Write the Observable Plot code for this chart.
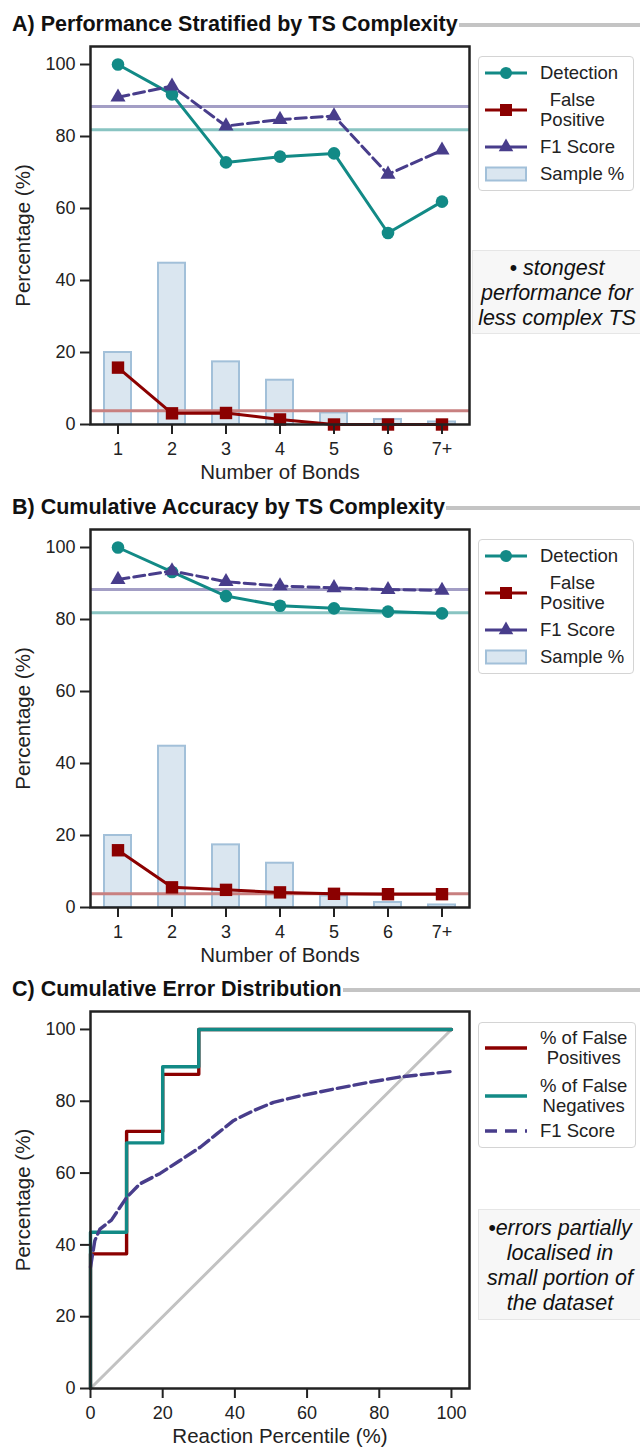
<!DOCTYPE html>
<html><head><meta charset="utf-8">
<script src="https://cdn.jsdelivr.net/npm/d3@7"></script>
<script src="https://cdn.jsdelivr.net/npm/@observablehq/plot@0.6"></script>
<style>
body{margin:0;background:#fff;}
#root{position:relative;width:640px;height:1447px;overflow:hidden;font-family:"Liberation Sans",Arial,sans-serif;color:#222;}
.panel{position:absolute;left:0;}
.title{position:absolute;left:12px;right:0;display:flex;align-items:center;font-weight:bold;font-size:21.5px;line-height:21.5px;color:#111;white-space:nowrap;}
.title .rule{flex:1;height:3.5px;background:#c4c4c4;margin-left:1px;}
.legend{position:absolute;border:1px solid #d4d4d4;border-radius:4px;background:#fff;box-sizing:border-box;}
.sw{position:absolute;left:5px;}
.tx{position:absolute;left:61px;font-size:18.5px;line-height:20px;text-align:center;white-space:nowrap;color:#222;}
.note{position:absolute;background:#f7f7f7;border:1px solid #e6e6e6;box-sizing:border-box;font-style:italic;font-size:21.5px;line-height:25px;text-align:center;color:#111;white-space:nowrap;}
</style></head>
<body><div id="root"></div>
<script>
// ---------- data ----------
const cats = ["1","2","3","4","5","6","7+"];
const samplePct = [20.0, 44.8, 17.4, 12.3, 3.2, 1.4, 0.7];
// Panel A: stratified
const detA = [100, 91.7, 72.8, 74.4, 75.3, 53.2, 61.9];
const fpA  = [15.8, 3.1, 3.2, 1.4, 0.0, 0.0, 0.0];
const f1A  = [90.9, 94.0, 82.9, 84.7, 85.7, 69.5, 76.2];
// Panel B: cumulative
const detB = [100, 93.2, 86.5, 83.8, 83.1, 82.2, 81.7];
const fpB  = [15.9, 5.6, 4.9, 4.2, 3.8, 3.7, 3.7];
const f1B  = [91.1, 93.5, 90.5, 89.3, 88.8, 88.3, 88.1];
// overall reference levels
const refDet = 81.9;
const refF1 = 88.3;
const refFp = 3.8;
// Panel C: cumulative error distribution
const fpCx = [0, 0, 10, 20, 30, 100];
const fpCy = [0, 37.5, 71.6, 87.5, 100, 100];
const fnCx = [0, 0, 10, 20, 30, 100];
const fnCy = [0, 43.5, 68.4, 89.6, 100, 100];
const f1Cx = [0, 1.2, 2.6, 5.8, 10, 13.7, 19.3, 24.8, 30.4, 35, 39.6, 45.2, 50.7, 58.1, 67.4, 76.7, 85.9, 100];
const f1Cy = [33.8, 41.2, 44.4, 46.9, 53.2, 57, 59.9, 63.5, 67.2, 70.9, 74.6, 77.4, 79.7, 81.5, 83.4, 85.2, 86.8, 88.3];
const diagX = [0, 100];
const diagY = [0, 100];
const yTicks = [0, 20, 40, 60, 80, 100];
const xTicksC = [0, 20, 40, 60, 80, 100];

// ---------- styles ----------
const TEAL = "#128a86", RED = "#8b0000", PURPLE = "#483d8b";
const TEAL_L = "#89c4c2", RED_L = "#c88080", PURPLE_L = "#a39ec5";
const BAR_FILL = "#dae6f0", BAR_EDGE = "#a2c0d9";
const FONT = "'Liberation Sans', Arial, sans-serif";
const root = document.getElementById("root");

function place(el, top) {
  const d = document.createElement("div");
  d.className = "panel"; d.style.top = top + "px";
  d.appendChild(el); root.appendChild(d);
}
function title(text, top) {
  const d = document.createElement("div");
  d.className = "title"; d.style.top = top + "px";
  d.innerHTML = `<span>${text}</span><span class="rule"></span>`;
  root.appendChild(d);
}
function note(lines, left, top, width, height, padTop) {
  const d = document.createElement("div");
  d.className = "note";
  Object.assign(d.style, {left: left+"px", top: top+"px", width: width+"px", height: height+"px", paddingTop: padTop+"px"});
  d.innerHTML = lines.join("<br>");
  root.appendChild(d);
}
function swatch(kind) {
  const w = 44, h = 22;
  const s = d3.create("svg").attr("width", w).attr("height", h);
  if (kind.bar) {
    s.append("rect").attr("x", 2).attr("y", 4.5).attr("width", 40).attr("height", 13)
      .attr("fill", BAR_FILL).attr("stroke", BAR_EDGE).attr("stroke-width", 2);
  } else {
    s.append("line").attr("x1", 1).attr("x2", 43).attr("y1", h/2).attr("y2", h/2)
      .attr("stroke", kind.color).attr("stroke-width", kind.sw || 3)
      .attr("stroke-dasharray", kind.dash || null);
    if (kind.symbol) {
      s.append("path").attr("transform", `translate(22,${h/2})`)
        .attr("d", d3.symbol(kind.symbol, Math.PI * kind.r * kind.r)())
        .attr("fill", kind.color);
    }
  }
  return s.node();
}
function legend(items, left, top, width, height) {
  const box = document.createElement("div");
  box.className = "legend";
  Object.assign(box.style, {left: left+"px", top: top+"px", width: width+"px", height: height+"px"});
  for (const it of items) {
    const sw = document.createElement("div"); sw.className = "sw";
    sw.style.top = (it.cy - 11) + "px";
    sw.appendChild(swatch(it));
    box.appendChild(sw);
    const tx = document.createElement("div"); tx.className = "tx";
    tx.style.top = (it.cy - 10 * it.label.length) + "px";
    tx.innerHTML = it.label.join("<br>");
    box.appendChild(tx);
  }
  root.appendChild(box);
}

function axes(xLabel, xOpts, xLabelOffset) {
  return [
    Plot.frame({stroke: "#222", strokeWidth: 2.5}),
    Plot.axisY({ticks: yTicks, tickSize: 10, tickPadding: 5, fontSize: 18, strokeWidth: 2, stroke: "#222",
      label: null, fill: "#222"}),
    Plot.axisY({ticks: [], tickSize: 0, fontSize: 20.5, fill: "#222",
      label: "Percentage (%)", labelArrow: "none", labelAnchor: "center", labelOffset: 75}),
    Plot.axisX({...xOpts, tickSize: 10, tickPadding: 8, fontSize: 18, strokeWidth: 2, stroke: "#222",
      label: null, fill: "#222"}),
    Plot.axisX({ticks: [], tickSize: 0, fontSize: 20.5, fill: "#222",
      label: xLabel, labelArrow: "none", labelAnchor: "center", labelOffset: xLabelOffset})
  ];
}

function panelAB(det, fp, f1) {
  const rows = cats.map((c, i) => ({cat: c, sample: samplePct[i], det: det[i], fp: fp[i], f1: f1[i]}));
  return Plot.plot({
    width: 640, height: 490, marginTop: 46, marginBottom: 66, marginLeft: 90, marginRight: 171,
    style: {fontFamily: FONT, color: "#222", background: "transparent", overflow: "visible"},
    x: {type: "band", domain: cats, paddingInner: 0.5, paddingOuter: 0.25},
    y: {domain: [0, 105]},
    marks: [
      Plot.barY(rows, {x: "cat", y: "sample", fill: BAR_FILL, stroke: BAR_EDGE, strokeWidth: 2}),
      Plot.ruleY([refF1], {stroke: PURPLE_L, strokeWidth: 3}),
      Plot.ruleY([refDet], {stroke: TEAL_L, strokeWidth: 3}),
      Plot.ruleY([refFp], {stroke: RED_L, strokeWidth: 3}),
      Plot.line(rows, {x: "cat", y: "det", stroke: TEAL, strokeWidth: 3}),
      Plot.dot(rows, {x: "cat", y: "det", symbol: "circle", r: 6.3, fill: TEAL}),
      Plot.line(rows, {x: "cat", y: "fp", stroke: RED, strokeWidth: 3}),
      Plot.dot(rows, {x: "cat", y: "fp", symbol: "square", r: 7, fill: RED}),
      Plot.line(rows, {x: "cat", y: "f1", stroke: PURPLE, strokeWidth: 3, strokeDasharray: "11,5"}),
      Plot.dot(rows, {x: "cat", y: "f1", symbol: "triangle", r: 5.6, fill: PURPLE}),
      ...axes("Number of Bonds", {}, 54)
    ]
  });
}

function panelC() {
  const toRows = (xs, ys) => xs.map((x, i) => ({x, y: ys[i]}));
  return Plot.plot({
    width: 640, height: 482, marginTop: 46, marginBottom: 59, marginLeft: 90, marginRight: 171,
    style: {fontFamily: FONT, color: "#222", background: "transparent", overflow: "visible"},
    x: {domain: [0, 105]},
    y: {domain: [0, 105]},
    marks: [
      Plot.line(toRows(diagX, diagY), {x: "x", y: "y", stroke: "#c2c2c2", strokeWidth: 3}),
      Plot.line(toRows(fpCx, fpCy), {x: "x", y: "y", curve: "step-after", stroke: RED, strokeWidth: 3.4}),
      Plot.line(toRows(fnCx, fnCy), {x: "x", y: "y", curve: "step-after", stroke: TEAL, strokeWidth: 3.4}),
      Plot.line(toRows(f1Cx, f1Cy), {x: "x", y: "y", curve: "linear", stroke: PURPLE, strokeWidth: 3.4, strokeDasharray: "12,5"}),
      ...axes("Reaction Percentile (%)", {ticks: xTicksC}, 54)
    ]
  });
}

// ---------- panels ----------
title("A) Performance Stratified by TS Complexity", 14);
place(panelAB(detA, fpA, f1A), 0);
title("B) Cumulative Accuracy by TS Complexity", 497);
place(panelAB(detB, fpB, f1B), 483);
title("C) Cumulative Error Distribution", 979);
place(panelC(), 965);

const abItems = [
  {label: ["Detection"], color: TEAL, symbol: d3.symbolCircle, r: 6, cy: 16},
  {label: ["False", "Positive"], color: RED, symbol: d3.symbolSquare, r: 6.8, cy: 53},
  {label: ["F1 Score"], color: PURPLE, symbol: d3.symbolTriangle, r: 5.4, cy: 90},
  {label: ["Sample %"], bar: true, cy: 117}
];
legend(abItems, 478, 56, 156, 135);
legend(abItems, 478, 539, 156, 135);
legend([
  {label: ["% of False", "Positives"], color: RED, sw: 3.5, cy: 25},
  {label: ["% of False", "Negatives"], color: TEAL, sw: 3.5, cy: 73},
  {label: ["F1 Score"], color: PURPLE, sw: 3.5, dash: "12,8", cy: 108}
], 478, 1022, 158, 126);

note(["• stongest", "performance for", "less complex TS"], 472, 250, 170, 84, 5);
note(["•errors partially", "localised in", "small portion of", "the dataset"], 478, 1209, 164, 111, 6);
</script>
</body></html>
